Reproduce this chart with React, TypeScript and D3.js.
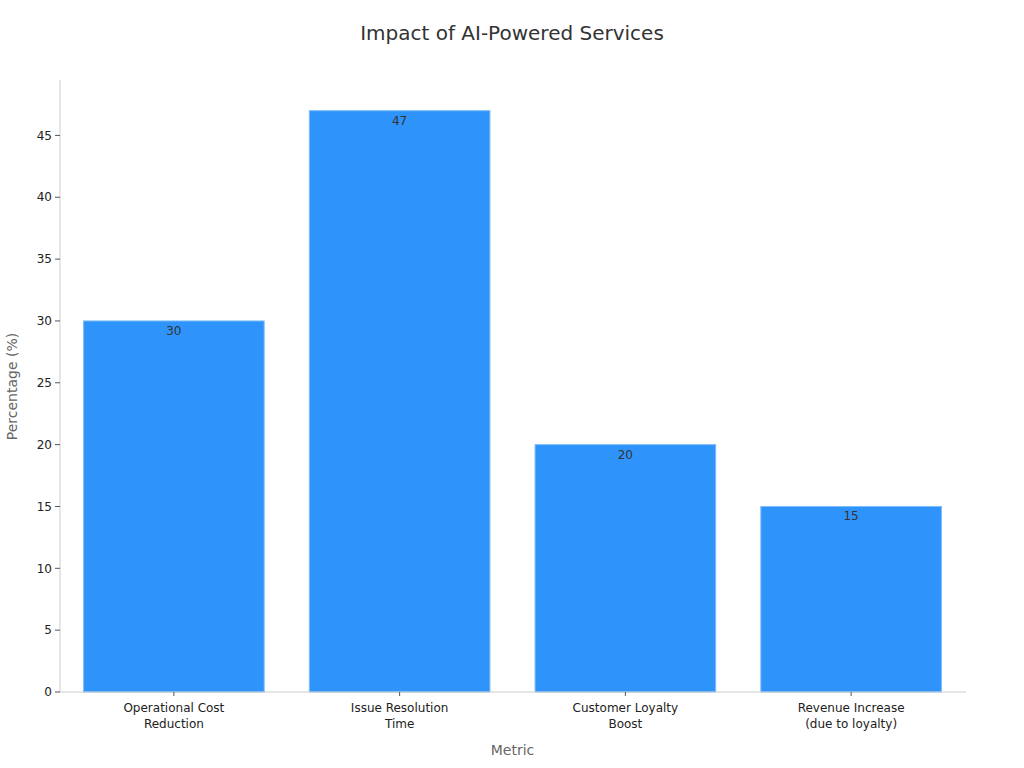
import React, { useEffect, useRef } from "react";
import * as d3 from "d3";

const categories = ["Operational Cost\nReduction", "Issue Resolution\nTime", "Customer Loyalty\nBoost", "Revenue Increase\n(due to loyalty)"];
const values = [30, 47, 20, 15];
const yTicks = [0, 5, 10, 15, 20, 25, 30, 35, 40, 45];

const W = 1024, H = 768;
const M = { left: 61, right: 60, top: 81, bottom: 76 };
const FONT = "DejaVu Sans, Verdana, sans-serif";

export default function App() {
  const ref = useRef<SVGSVGElement>(null);
  useEffect(() => {
    const svg = d3.select(ref.current!);
    svg.selectAll("*").remove();
    const x = d3.scaleBand<string>().domain(categories).range([M.left, W - M.right]).paddingInner(0.2).paddingOuter(0.1);
    const y = d3.scaleLinear().domain([0, 49.4]).range([H - M.bottom, M.top]);

    svg.append("text").attr("x", W / 2).attr("y", 40).attr("text-anchor", "middle")
      .attr("font-size", 20).attr("fill", "#333").attr("font-family", FONT).text("Impact of AI-Powered Services");

    svg.append("g").selectAll("rect").data(values).join("rect")
      .attr("x", (_, i) => x(categories[i])!)
      .attr("y", d => y(d))
      .attr("width", x.bandwidth())
      .attr("height", d => y(0) - y(d))
      .attr("fill", "#2E93FA").attr("stroke", "#7cbcf7").attr("stroke-width", 1);

    svg.append("g").selectAll("text").data(values).join("text")
      .attr("x", (_, i) => x(categories[i])! + x.bandwidth() / 2)
      .attr("y", d => y(d) + 14)
      .attr("text-anchor", "middle").attr("font-size", 12).attr("fill", "#333").attr("font-family", FONT)
      .text(d => String(d));

    const ax = M.left - 1;
    svg.append("line").attr("x1", ax).attr("x2", ax).attr("y1", M.top - 1).attr("y2", H - M.bottom).attr("stroke", "#ccc");
    svg.append("line").attr("x1", ax).attr("x2", W - M.right + 2).attr("y1", H - M.bottom).attr("y2", H - M.bottom).attr("stroke", "#ccc");

    const yg = svg.append("g");
    yTicks.forEach(t => {
      yg.append("line").attr("x1", ax - 5).attr("x2", ax).attr("y1", y(t)).attr("y2", y(t)).attr("stroke", "#555");
      yg.append("text").attr("x", ax - 8).attr("y", y(t)).attr("dy", "0.35em").attr("text-anchor", "end")
        .attr("font-size", 12).attr("fill", "#222").attr("font-family", FONT).text(String(t));
    });

    const xg = svg.append("g");
    categories.forEach(c => {
      const cx = x(c)! + x.bandwidth() / 2;
      xg.append("line").attr("x1", cx).attr("x2", cx).attr("y1", H - M.bottom).attr("y2", H - M.bottom + 4).attr("stroke", "#555");
      const lines = c.split("\n");
      const t = xg.append("text").attr("text-anchor", "middle").attr("font-size", 12).attr("fill", "#222").attr("font-family", FONT);
      lines.forEach((l, i) => t.append("tspan").attr("x", cx).attr("y", H - M.bottom + 20 + i * 16).text(l));
    });

    svg.append("text").attr("x", (M.left + W - M.right) / 2).attr("y", 755).attr("text-anchor", "middle")
      .attr("font-size", 14).attr("fill", "#666").attr("font-family", FONT).text("Metric");
    svg.append("text").attr("transform", `translate(17,${(M.top + H - M.bottom) / 2}) rotate(-90)`).attr("text-anchor", "middle")
      .attr("font-size", 14).attr("fill", "#666").attr("font-family", FONT).text("Percentage (%)");
  }, []);
  return <svg ref={ref} width={W} height={H} style={{ position: "absolute", left: 0, top: 0, background: "#fff" }} />;
}
